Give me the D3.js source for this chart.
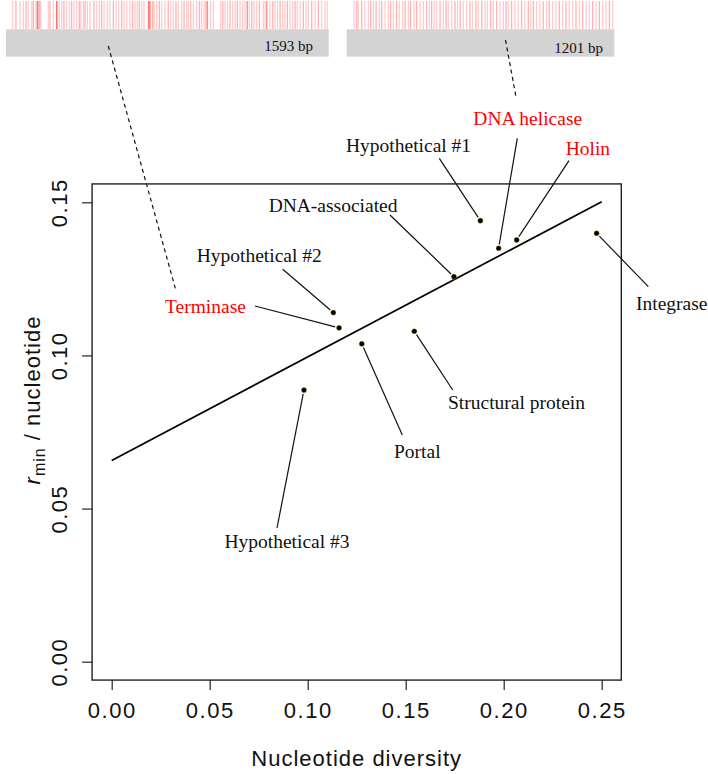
<!DOCTYPE html>
<html>
<head>
<meta charset="utf-8">
<script src="https://cdn.jsdelivr.net/npm/d3@7"></script>
<style>
  html, body { margin: 0; padding: 0; background: #fff; }
  svg { display: block; }
</style>
</head>
<body>
<svg id="chart" width="708" height="774"></svg>
<script>
// ---------------- DATA ----------------
const genes = ["Hypothetical #1", "DNA helicase", "Holin", "DNA-associated", "Hypothetical #2",
               "Terminase", "Integrase", "Structural protein", "Portal", "Hypothetical #3"];
const diversity = [0.1881, 0.1974, 0.2066, 0.1746, 0.1131, 0.1160, 0.2474, 0.1544, 0.1276, 0.0981];
const rmin      = [0.1440, 0.1350, 0.1377, 0.1257, 0.1140, 0.1090, 0.1399, 0.1079, 0.1038, 0.0887];
const highlighted = ["DNA helicase", "Holin", "Terminase"];

const xTicks = [0.00, 0.05, 0.10, 0.15, 0.20, 0.25];
const yTicks = [0.00, 0.05, 0.10, 0.15];

// Gene alignments shown on top (length in bp, polymorphic site positions in bp, intensity 1-3)
const terminaseLength = 1593;
const terminaseSites = [33,49,69,86,99,110,127,135,148,155,158,165,171,209,217,234,250,252,263,275,286,300,313,324,336,349,362,369,382,390,
  402,415,434,448,461,472,484,500,513,530,543,556,571,583,596,612,625,637,648,658,670,681,703,708,714,724,731,744,757,769,
  785,801,813,826,839,851,867,879,892,900,912,925,941,955,966,978,987,994,1010,1024,1060,1070,1081,1093,1106,1119,1131,1142,1155,1168,
  1180,1191,1201,1213,1224,1238,1251,1270,1279,1287,1303,1317,1328,1340,1353,1366,1377,1389,1402,1415,1427,1438,1452,1468,1481,1493,1509,1526,1542,1558,1575,1586];
const terminaseWeight = [1,2,1,1,2,1,1,2,1,3,2,2,1,1,2,1,3,2,1,1,2,1,1,2,1,1,2,1,1,2,
  1,1,2,1,1,2,1,1,1,2,1,1,2,1,1,1,2,1,1,2,1,1,3,3,2,2,1,1,2,1,
  1,2,1,1,2,1,1,2,1,1,2,1,1,2,1,1,2,3,1,1,1,2,1,1,2,1,1,2,1,1,
  1,3,1,2,1,1,2,1,1,3,1,2,1,1,2,1,1,2,1,1,2,1,1,2,1,1,2,1,2,1,1,1];
const helicaseLength = 1201;
const helicaseSites = [33,45,52,67,82,97,108,120,132,147,157,172,187,197,209,224,236,251,262,277,287,302,314,329,344,359,371,381,392,404,
  419,434,446,456,471,486,497,509,523,538,553,565,580,591,606,621,631,646,658,673,688,703,715,725,740,755,770,785,800,815,
  826,838,852,867,882,897,909,924,939,954,969,984,999,1014,1029,1044,1059,1074,1089,1104,1119,1134,1149,1164,1179,1194];
const helicaseWeight = [1,2,1,2,1,1,2,1,2,1,2,1,1,2,1,2,1,1,2,1,2,1,2,1,1,2,1,2,1,1,
  2,1,2,1,1,2,1,2,1,1,2,1,2,1,2,1,1,2,1,2,1,1,2,1,2,1,1,2,1,2,
  1,2,1,1,2,1,2,1,1,2,1,2,1,1,2,1,2,1,1,2,1,2,1,1,2,1];

// ---------------- LAYOUT ----------------
const svg = d3.select("#chart");
const serif = "'Liberation Serif', 'Times New Roman', serif";
const sans = "'Liberation Sans', Arial, sans-serif";

const x = d3.scaleLinear().domain([0, 0.25]).range([111.7, 601.7]);
const y = d3.scaleLinear().domain([0, 0.15]).range([661.7, 202.3]);
const xPad = 0.04 * 0.25, yPad = 0.04 * 0.15;

// plot box
svg.append("rect")
  .attr("x", x(-xPad)).attr("y", y(0.15 + yPad))
  .attr("width", x(0.25 + xPad) - x(-xPad))
  .attr("height", y(-yPad) - y(0.15 + yPad))
  .attr("fill", "none").attr("stroke", "#222").attr("stroke-width", 1.4);

// x axis
const xAxis = d3.axisBottom(x).tickValues(xTicks).tickFormat(d3.format(".2f"))
  .tickSize(10).tickSizeOuter(0);
const gx = svg.append("g").attr("transform", `translate(0,${y(-yPad)})`).call(xAxis);
gx.select(".domain").remove();
gx.selectAll(".tick line").attr("stroke", "#222").attr("stroke-width", 1.2);
gx.selectAll(".tick text").attr("font-family", sans).attr("font-size", 22)
  .attr("letter-spacing", 1.5).attr("fill", "#111").attr("y", 22).attr("dy", "0.71em");

// y axis
const yAxis = d3.axisLeft(y).tickValues(yTicks).tickFormat(d3.format(".2f"))
  .tickSize(10).tickSizeOuter(0);
const gy = svg.append("g").attr("transform", `translate(${x(-xPad)},0)`).call(yAxis);
gy.select(".domain").remove();
gy.selectAll(".tick line").attr("stroke", "#222").attr("stroke-width", 1.2);
gy.selectAll(".tick text").attr("font-family", sans).attr("font-size", 22)
  .attr("letter-spacing", 1.5).attr("fill", "#111")
  .attr("x", null).attr("dy", null)
  .attr("text-anchor", "middle")
  .attr("transform", "translate(-25,0) rotate(-90)");

// axis titles
svg.append("text")
  .attr("x", (x(-xPad) + x(0.25 + xPad)) / 2).attr("y", 766)
  .attr("text-anchor", "middle").attr("font-family", sans).attr("font-size", 22)
  .attr("letter-spacing", 1).attr("fill", "#111")
  .text("Nucleotide diversity");

const yt = svg.append("text")
  .attr("transform", `translate(40,400) rotate(-90)`)
  .attr("text-anchor", "middle").attr("font-family", sans).attr("font-size", 22)
  .attr("letter-spacing", 1).attr("fill", "#111");
yt.append("tspan").attr("font-style", "italic").text("r");
yt.append("tspan").attr("font-size", 16).attr("dy", 5).text("min");
yt.append("tspan").attr("dy", -5).text(" / nucleotide");

// regression line (least squares from the data)
const mx = d3.mean(diversity), my = d3.mean(rmin);
const sxy = d3.sum(diversity, (d, i) => (d - mx) * (rmin[i] - my));
const sxx = d3.sum(diversity, d => (d - mx) * (d - mx));
const slope = sxy / sxx, intercept = my - slope * mx;
svg.append("line")
  .attr("x1", x(0)).attr("y1", y(intercept))
  .attr("x2", x(0.25)).attr("y2", y(intercept + slope * 0.25))
  .attr("stroke", "#000").attr("stroke-width", 1.7);

// annotation layout: [text x, baseline y, anchor, leader start x, leader start y]
const labelLayout = {
  "Hypothetical #1":    [346, 151.5, "start", 439.3, 158.3],
  "DNA helicase":       [473.3, 124.5, "start", 517.3, 138.3],
  "Holin":              [565.7, 155, "start", 569, 160.7],
  "DNA-associated":     [397.5, 211.5, "end", 390, 215],
  "Hypothetical #2":    [196.7, 262, "start", 282.7, 269.3],
  "Terminase":          [165, 312.5, "start", 255, 306],
  "Integrase":          [636, 310, "start", 648.3, 286.7],
  "Structural protein": [448, 409, "start", 452.7, 390],
  "Portal":             [394, 458, "start", 402.3, 435],
  "Hypothetical #3":    [287, 548, "middle", 277, 528]
};

const pts = genes.map((g, i) => ({ name: g, px: x(diversity[i]), py: y(rmin[i]) }));

// leaders
svg.append("g").selectAll("line").data(pts).join("line")
  .attr("x1", d => labelLayout[d.name][3]).attr("y1", d => labelLayout[d.name][4])
  .attr("x2", d => {
    const L = labelLayout[d.name]; const dx = d.px - L[3], dy = d.py - L[4];
    const len = Math.hypot(dx, dy); return d.px - dx / len * 4;
  })
  .attr("y2", d => {
    const L = labelLayout[d.name]; const dx = d.px - L[3], dy = d.py - L[4];
    const len = Math.hypot(dx, dy); return d.py - dy / len * 4;
  })
  .attr("stroke", "#111").attr("stroke-width", 1.2);

// labels
svg.append("g").selectAll("text").data(pts).join("text")
  .attr("x", d => labelLayout[d.name][0]).attr("y", d => labelLayout[d.name][1])
  .attr("text-anchor", d => labelLayout[d.name][2])
  .attr("font-family", serif).attr("font-size", 19.5)
  .attr("fill", d => highlighted.includes(d.name) ? "#ff0000" : "#111")
  .text(d => d.name);

// points
svg.append("g").selectAll("circle").data(pts).join("circle")
  .attr("cx", d => d.px).attr("cy", d => d.py).attr("r", 2.6)
  .attr("fill", "#000").attr("stroke", "#d9a441").attr("stroke-width", 0.4);

// ---------------- gene alignment strips ----------------
function strip(len, sites, weights, x0, x1, label, labelX, labelY) {
  const s = d3.scaleLinear().domain([0, len]).range([x0, x1]);
  const g = svg.append("g");
  g.selectAll("line").data(sites).join("line")
    .attr("x1", d => s(d)).attr("x2", d => s(d))
    .attr("y1", 1).attr("y2", 29.3)
    .attr("stroke", "#ff0000").attr("stroke-width", 1.3)
    .attr("stroke-opacity", (d, i) => [0, 0.2, 0.3, 0.45][weights[i]]);
  g.append("rect").attr("x", s(0)).attr("y", 29.3)
    .attr("width", s(len) - s(0)).attr("height", 27.4).attr("fill", "#d3d3d3");
  g.append("text").attr("x", labelX).attr("y", labelY).attr("text-anchor", "end")
    .attr("font-family", serif).attr("font-size", 15).attr("fill", "#111").text(label);
}
strip(terminaseLength, terminaseSites, terminaseWeight, 6, 328.7, `${terminaseLength} bp`, 313, 51);
strip(helicaseLength, helicaseSites, helicaseWeight, 346.7, 614.3, `${helicaseLength} bp`, 603, 53);

// dashed connectors from strips to highlighted genes
const connectors = [[108.3, 46, 175.5, 289], [505.5, 40, 516, 97]];
svg.append("g").selectAll("line").data(connectors).join("line")
  .attr("x1", d => d[0]).attr("y1", d => d[1]).attr("x2", d => d[2]).attr("y2", d => d[3])
  .attr("stroke", "#111").attr("stroke-width", 1.2).attr("stroke-dasharray", "4,3.5");
</script>
</body>
</html>
